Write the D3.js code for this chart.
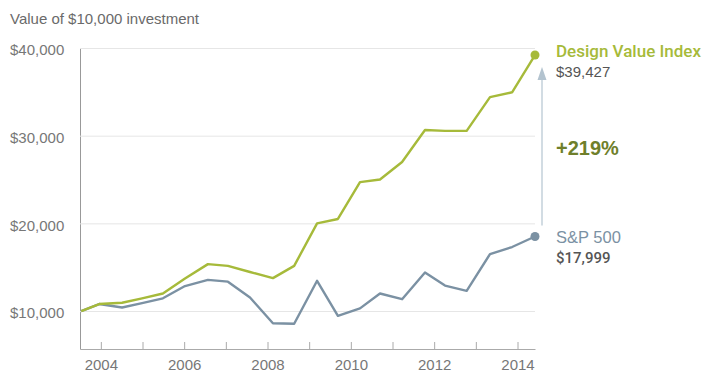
<!DOCTYPE html>
<html>
<head>
<meta charset="utf-8">
<script src="https://cdn.jsdelivr.net/npm/d3@7"></script>
<style>
  body { margin: 0; background: #fff; }
  svg { font-family: "Liberation Sans", Arial, sans-serif; }
  .axis text { fill: #777; font-size: 15px; }
  .axis--x path, .axis--x line { stroke: #aaa; }
  .axis--y path { stroke: #999; }
  .axis--y line { stroke: #e6e6e6; }
</style>
</head>
<body>
<svg width="705" height="372"></svg>
<script>
// half-yearly observation dates (decimal years)
var dates = [2003.53, 2003.96, 2004.51, 2004.99, 2005.49, 2006.02, 2006.57, 2007.05,
             2007.58, 2008.13, 2008.64, 2009.19, 2009.69, 2010.22, 2010.70, 2011.23,
             2011.78, 2012.26, 2012.78, 2013.34, 2013.87, 2014.42];
var designValue = [10000, 10800, 10950, 11450, 12000, 13700, 15350, 15150,
                   14450, 13750, 15150, 20000, 20500, 24700, 25000, 27000,
                   30650, 30550, 30550, 34400, 34950, 39200];
var sp500 = [10000, 10800, 10400, 10900, 11450, 12850, 13550, 13350,
             11550, 8600, 8550, 13450, 9450, 10300, 12000, 11350,
             14400, 12900, 12300, 16500, 17300, 18500];
var yTicks = [10000, 20000, 30000, 40000];
var xTicks = [2004, 2005, 2006, 2007, 2008, 2009, 2010, 2011, 2012, 2013, 2014];
var seriesNames = ["Design Value Index", "S&P 500"];
var endLabels = ["$39,427", "$17,999"];
var gainLabel = "+219%";
var title = "Value of $10,000 investment";

var svg = d3.select("svg"),
    margin = {top: 48, right: 170, bottom: 23, left: 80},
    width = +svg.attr("width") - margin.left - margin.right,
    height = +svg.attr("height") - margin.top - margin.bottom;

var x = d3.scaleLinear().domain([2003.5, 2014.42]).range([0, width]),
    y = d3.scaleLinear().domain([5670, 40000]).range([height, 0]);

var g = svg.append("g")
    .attr("transform", "translate(" + margin.left + "," + margin.top + ")");

svg.append("text")
    .attr("x", 10)
    .attr("y", 24)
    .attr("fill", "#6a6a6a")
    .style("font-size", "15px")
    .text(title);

var yAxis = g.append("g")
    .attr("class", "axis axis--y")
    .call(d3.axisLeft(y).tickValues(yTicks).tickSize(-width).tickSizeOuter(0)
      .tickFormat(function(d) { return "$" + d3.format(",")(d); }));
yAxis.selectAll("text")
    .attr("x", -70)
    .attr("dy", "0.45em")
    .attr("text-anchor", "start");

g.append("g")
    .attr("class", "axis axis--x")
    .attr("transform", "translate(0," + height + ")")
    .call(d3.axisBottom(x).tickValues(xTicks).tickSize(-7).tickSizeOuter(0)
      .tickFormat(function(d) { return d % 2 === 0 ? d : ""; }))
  .selectAll("text")
    .attr("y", 10)
    .attr("dy", "0.71em");

var line = d3.line()
    .x(function(d, i) { return x(dates[i]); })
    .y(function(d) { return y(d); });

var colors = ["#a6ba3a", "#7b91a3"];
var series = [sp500, designValue];
var seriesColors = [colors[1], colors[0]];

series.forEach(function(s, k) {
  g.append("path")
      .datum(s)
      .attr("fill", "none")
      .attr("stroke", seriesColors[k])
      .attr("stroke-width", 2.4)
      .attr("stroke-linejoin", "round")
      .attr("d", line);
  g.append("circle")
      .attr("cx", x(dates[dates.length - 1]))
      .attr("cy", y(s[s.length - 1]))
      .attr("r", 4.5)
      .attr("fill", seriesColors[k]);
});

// gain arrow
var ax = x(dates[dates.length - 1]) + 7;
var yTop = y(designValue[designValue.length - 1]) + 12,
    yBot = y(sp500[sp500.length - 1]) - 11;
g.append("line")
    .attr("x1", ax).attr("x2", ax)
    .attr("y1", yTop + 10).attr("y2", yBot)
    .attr("stroke", "#c3d0da")
    .attr("stroke-width", 1.5);
g.append("path")
    .attr("d", "M" + ax + "," + yTop + "L" + (ax - 4.5) + "," + (yTop + 13) + "L" + (ax + 4.5) + "," + (yTop + 13) + "Z")
    .attr("fill", "#b3c3cf");

var lx = x(dates[dates.length - 1]) + 21;
var labelY = [y(designValue[designValue.length - 1]), y(sp500[sp500.length - 1])];
[0, 1].forEach(function(k) {
  var nameY = k === 0 ? labelY[0] + 2 : labelY[1] + 6;
  g.append("text")
      .attr("x", lx)
      .attr("y", nameY)
      .attr("fill", colors[k])
      .style("font-size", k === 0 ? "17px" : "16.5px")
      .style("font-weight", k === 0 ? "500" : "normal")
      .style("font-family", k === 0 ? "Roboto, 'Liberation Sans', sans-serif" : null)
      .text(seriesNames[k]);
  g.append("text")
      .attr("x", lx)
      .attr("y", nameY + 20)
      .attr("fill", "#555")
      .style("font-size", "15px")
      .style("font-weight", k === 1 ? "500" : "normal")
      .style("font-family", k === 1 ? "Roboto, 'Liberation Sans', sans-serif" : null)
      .text(endLabels[k]);
});

g.append("text")
    .attr("x", lx)
    .attr("y", 107)
    .attr("fill", "#6f7f2b")
    .style("font-size", "20px")
    .style("font-weight", "bold")
    .text(gainLabel);
</script>
</body>
</html>
